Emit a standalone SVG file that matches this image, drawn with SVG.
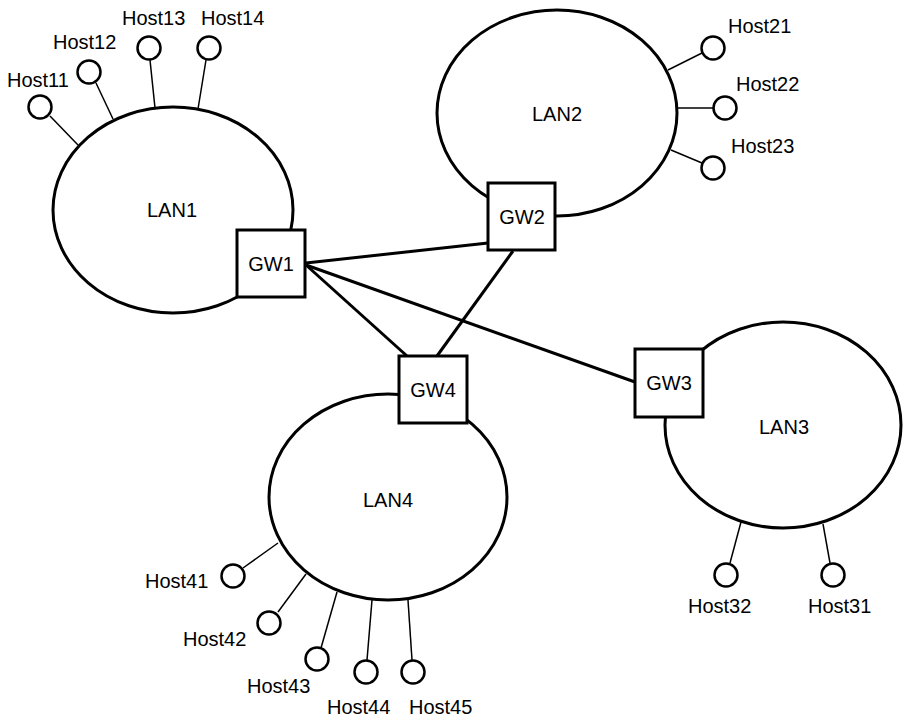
<svg xmlns="http://www.w3.org/2000/svg" width="905" height="719" viewBox="0 0 905 719">
  <style>
    .lan { fill: #ffffff; stroke: #000000; stroke-width: 3; }
    .gw { fill: #ffffff; stroke: #000000; stroke-width: 3; }
    .host { fill: #ffffff; stroke: #000000; stroke-width: 2.5; }
    .link { stroke: #000000; stroke-width: 3; fill: none; }
    .tap { stroke: #000000; stroke-width: 1.5; fill: none; }
    text { font-family: "Liberation Sans", Arial, Helvetica, sans-serif; font-size: 20px; fill: #000000; }
    .mid { text-anchor: middle; dominant-baseline: central; }
  </style>
  <rect x="0" y="0" width="905" height="719" fill="#ffffff"/>

  <!-- LAN segments -->
  <g id="lan1"><ellipse class="lan" cx="173" cy="210" rx="120" ry="103"/><text class="mid" x="172" y="210">LAN1</text></g>
  <g id="lan2"><ellipse class="lan" cx="557" cy="113" rx="120" ry="103"/><text class="mid" x="557" y="114">LAN2</text></g>
  <g id="lan3"><ellipse class="lan" cx="783" cy="425" rx="118" ry="103"/><text class="mid" x="784" y="427">LAN3</text></g>
  <g id="lan4"><ellipse class="lan" cx="388" cy="497" rx="119" ry="103"/><text class="mid" x="388" y="500">LAN4</text></g>

  <!-- links between gateways and host drop lines -->
  <g id="connectors">
    <line class="link" x1="306" y1="263" x2="488" y2="243"/>
    <line class="link" x1="306" y1="265" x2="407" y2="356"/>
    <line class="link" x1="306" y1="265" x2="635" y2="382"/>
    <line class="link" x1="513" y1="251" x2="437" y2="356"/>

    <line class="tap" x1="78" y1="145" x2="50" y2="116"/>
    <line class="tap" x1="113" y1="119" x2="96" y2="83"/>
    <line class="tap" x1="155" y1="108" x2="150" y2="60"/>
    <line class="tap" x1="198" y1="109" x2="206" y2="60"/>

    <line class="tap" x1="668" y1="70" x2="702" y2="53"/>
    <line class="tap" x1="678" y1="108" x2="713" y2="108"/>
    <line class="tap" x1="671" y1="150" x2="702" y2="163"/>

    <line class="tap" x1="741" y1="522" x2="730" y2="563"/>
    <line class="tap" x1="823" y1="524" x2="830" y2="563"/>

    <line class="tap" x1="278" y1="543" x2="243" y2="568"/>
    <line class="tap" x1="306" y1="574" x2="278" y2="612"/>
    <line class="tap" x1="337" y1="592" x2="321" y2="648"/>
    <line class="tap" x1="372" y1="600" x2="367" y2="660"/>
    <line class="tap" x1="408" y1="600" x2="412" y2="660"/>
  </g>

  <!-- gateways -->
  <g id="gw1"><rect class="gw" x="237" y="230" width="68" height="67"/><text class="mid" x="271" y="264">GW1</text></g>
  <g id="gw2"><rect class="gw" x="488" y="183" width="67" height="67"/><text class="mid" x="522" y="217">GW2</text></g>
  <g id="gw3"><rect class="gw" x="635" y="349" width="68" height="68"/><text class="mid" x="669" y="383">GW3</text></g>
  <g id="gw4"><rect class="gw" x="399" y="356" width="68" height="67"/><text class="mid" x="433" y="390">GW4</text></g>

  <!-- hosts -->
  <g id="host11"><circle class="host" cx="40" cy="107" r="11.5"/><text x="7" y="87">Host11</text></g>
  <g id="host12"><circle class="host" cx="89" cy="72" r="11.5"/><text x="53" y="49">Host12</text></g>
  <g id="host13"><circle class="host" cx="149" cy="48" r="11.5"/><text x="122" y="25">Host13</text></g>
  <g id="host14"><circle class="host" cx="209" cy="48" r="11.5"/><text x="201" y="25">Host14</text></g>

  <g id="host21"><circle class="host" cx="713" cy="48" r="11.5"/><text x="728" y="33">Host21</text></g>
  <g id="host22"><circle class="host" cx="725" cy="108" r="11.5"/><text x="736" y="91">Host22</text></g>
  <g id="host23"><circle class="host" cx="713" cy="168" r="11.5"/><text x="731" y="153">Host23</text></g>

  <g id="host31"><circle class="host" cx="833" cy="575" r="11.5"/><text x="808" y="613">Host31</text></g>
  <g id="host32"><circle class="host" cx="726" cy="575" r="11.5"/><text x="688" y="613">Host32</text></g>

  <g id="host41"><circle class="host" cx="233" cy="576" r="11.5"/><text x="145" y="588">Host41</text></g>
  <g id="host42"><circle class="host" cx="269" cy="623" r="11.5"/><text x="183" y="646">Host42</text></g>
  <g id="host43"><circle class="host" cx="317" cy="659" r="11.5"/><text x="247" y="693">Host43</text></g>
  <g id="host44"><circle class="host" cx="366" cy="672" r="11.5"/><text x="327" y="714">Host44</text></g>
  <g id="host45"><circle class="host" cx="413" cy="672" r="11.5"/><text x="409" y="714">Host45</text></g>
</svg>
